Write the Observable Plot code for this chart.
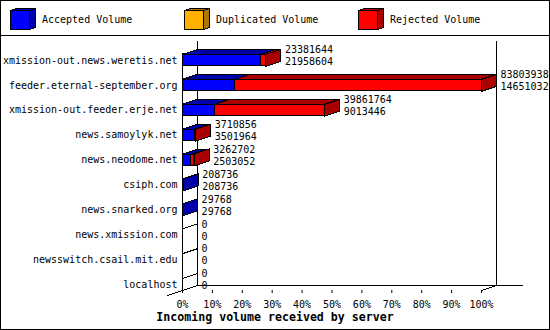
<!DOCTYPE html>
<html><head><meta charset="utf-8">
<script src="https://cdn.jsdelivr.net/npm/d3@7"></script>
<script src="https://cdn.jsdelivr.net/npm/@observablehq/plot@0.6"></script>
<style>
body{margin:0;background:#fff;}
#chart{position:relative;width:550px;height:330px;box-sizing:border-box;border:1px solid #000;background:#fff;font-family:"DejaVu Sans Mono",monospace;overflow:hidden;}
#legend{height:34px;border-bottom:1px solid #000;}
#legend svg,#plot svg{display:block;}
#caption{height:18px;line-height:12px;text-align:center;font-weight:bold;font-size:11.6px;color:#000;}
</style></head><body>
<div id="chart"><div id="legend"></div><div id="plot"></div><div id="caption"></div></div>
<script>
// ---- data ----
const servers = [
  "xmission-out.news.weretis.net",
  "feeder.eternal-september.org",
  "xmission-out.feeder.erje.net",
  "news.samoylyk.net",
  "news.neodome.net",
  "csiph.com",
  "news.snarked.org",
  "news.xmission.com",
  "newsswitch.csail.mit.edu",
  "localhost"
];
const totalVolume      = [23381644, 83803938, 39861764, 3710856, 3262702, 208736, 29768, 0, 0, 0];
const acceptedVolume   = [21958604, 14651032, 9013446, 3501964, 2503052, 208736, 29768, 0, 0, 0];
const duplicatedVolume = [0, 0, 0, 0, 0, 0, 0, 0, 0, 0];
const rejectedVolume   = [1423040, 69152906, 30848318, 208892, 759650, 0, 0, 0, 0, 0];
const seriesNames = ["Accepted Volume", "Duplicated Volume", "Rejected Volume"];
const percentTicks = [0, 10, 20, 30, 40, 50, 60, 70, 80, 90, 100];
const xTitle = "Incoming volume received by server";

// ---- style ----
const frontColors = ["#0000ff", "#ffb000", "#ff0000"];
const sideColors  = ["#0000aa", "#aa7800", "#aa0000"];
const DX = 15, DY = -5;

const seriesArrays = [acceptedVolume, duplicatedVolume, rejectedVolume];
const maxTotal = d3.max(totalVolume);

const segments = [];
servers.forEach((server, i) => {
  let start = 0;
  seriesArrays.forEach((arr, s) => {
    segments.push({server, s, x1: start, x2: start + arr[i], value: arr[i]});
    start += arr[i];
  });
});
const rows = servers.map((server, i) => ({
  server, total: totalVolume[i], accepted: acceptedVolume[i],
  label: `${totalVolume[i]}\n${acceptedVolume[i]}`
}));

function bw(scales) {
  return scales.y && scales.y.bandwidth ? scales.y.bandwidth() : 12;
}

function facesRender(index, scales) {
  const g = d3.create("svg:g").attr("transform", "translate(0.5,0.5)").attr("shape-rendering", "crispEdges");
  const h = bw(scales);
  for (const row of rows) {
    const yT = scales.y(row.server), yB = yT + h;
    const x0 = scales.x(0);
    if (row.total === 0) {
      g.append("line").attr("x1", x0).attr("y1", yT).attr("x2", x0 + DX).attr("y2", yT + DY).attr("stroke", "black");
      continue;
    }
    let last = 0;
    segments.filter(d => d.server === row.server && d.value > 0).forEach(d => {
      const a = scales.x(d.x1), b = scales.x(d.x2);
      g.append("polygon")
        .attr("points", [[a, yT], [b, yT], [b + DX, yT + DY], [a + DX, yT + DY]].join(" "))
        .attr("fill", sideColors[d.s]).attr("stroke", "black");
      last = d.s;
    });
    const xe = scales.x(row.total);
    g.append("polygon")
      .attr("points", [[xe, yT], [xe + DX, yT + DY], [xe + DX, yB + DY], [xe, yB]].join(" "))
      .attr("fill", sideColors[last]).attr("stroke", "black");
  }
  return g.node();
}

function frameRender(index, scales, values, dims) {
  const {width, height, marginTop, marginBottom} = dims;
  const g = d3.create("svg:g").attr("transform", "translate(0.5,0.5)").attr("shape-rendering", "crispEdges").attr("stroke", "black");
  const x0 = scales.x(0), x100 = scales.x(maxTotal), yF = height - marginBottom;
  const yFirst = scales.y(servers[0]);
  const segs = [
    [x0 + DX, marginTop, x0 + DX, yF + DY],
    [x100 + DX, marginTop, x100 + DX, yF + DY],
    [x0 + DX, yF + DY, x100 + DX + 26, yF + DY],
    [x0 - DX, yF - DY, x0 + DX, yF + DY],
    [x100, yF, x100 + DX, yF + DY],
    [x0, yFirst - 1, x0, yF]
  ];
  for (const [a, b, c, d] of segs) g.append("line").attr("x1", a).attr("y1", b).attr("x2", c).attr("y2", d);
  return g.node();
}

const plot = Plot.plot({
  width: 548, height: 275,
  marginLeft: 181, marginRight: 68, marginTop: 4, marginBottom: 21,
  style: {fontFamily: '"DejaVu Sans Mono", monospace', fontSize: "10px", background: "white", color: "black"},
  x: {domain: [0, maxTotal], ticks: percentTicks.map(p => p / 100 * maxTotal),
      tickFormat: d => Math.round(d / maxTotal * 100) + "%", tickSize: 3, tickPadding: 7, label: null},
  y: {type: "band", domain: servers, range: [11.5, 260.5], paddingInner: 0.52, paddingOuter: 0.26,
      round: false, tickSize: 0, tickPadding: 5, label: null},
  marks: [
    Plot.ruleX([0], {render: frameRender}),
    Plot.barX(segments.filter(d => d.value > 0), {
      x1: "x1", x2: "x2", y: "server", fill: d => frontColors[d.s], stroke: "black", strokeWidth: 1,
      shapeRendering: "crispEdges"
    }),
    Plot.barX(segments, {x1: "x1", x2: "x2", y: "server", render: facesRender}),
    Plot.text(rows, {x: "total", y: "server", text: "label", dx: DX + 4, dy: -5,
      textAnchor: "start", lineHeight: 1.2, fontSize: 10, fill: "black"})
  ]
});
document.getElementById("plot").appendChild(plot);
document.getElementById("caption").textContent = xTitle;

// ---- legend ----
const legendX = [9, 183, 357];
const lg = d3.select("#legend").append("svg").attr("width", 548).attr("height", 34)
  .style("font-family", '"DejaVu Sans Mono", monospace').style("font-size", "10px");
seriesNames.forEach((name, s) => {
  const g = lg.append("g").attr("transform", `translate(${legendX[s] + 0.5},9.5)`).attr("shape-rendering", "crispEdges");
  g.append("polygon").attr("points", "0,0 6,-2 25,-2 19,0").attr("fill", sideColors[s]).attr("stroke", "black");
  g.append("polygon").attr("points", "19,0 25,-2 25,17 19,19").attr("fill", sideColors[s]).attr("stroke", "black");
  g.append("rect").attr("x", 0).attr("y", 0).attr("width", 19).attr("height", 19).attr("fill", frontColors[s]).attr("stroke", "black");
  lg.append("text").attr("x", legendX[s] + 32).attr("y", 19).attr("dy", "0.32em").text(name);
});
</script>
</body></html>
